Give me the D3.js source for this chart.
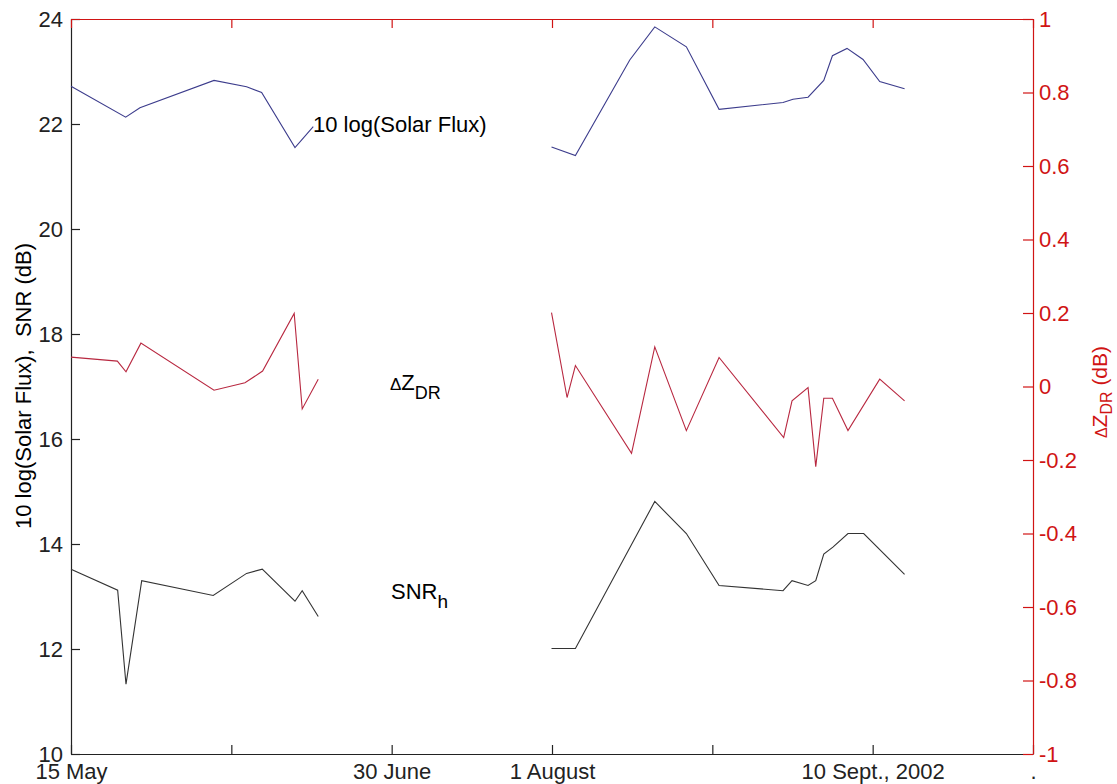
<!DOCTYPE html>
<html>
<head>
<meta charset="utf-8">
<script src="https://cdn.jsdelivr.net/npm/d3@7"></script>
<style>
  html, body { margin: 0; padding: 0; background: #fff; }
  svg { display: block; font-family: "Liberation Sans", Arial, sans-serif; }
</style>
</head>
<body>
<svg id="chart" width="1117" height="784"></svg>
<script>
// ---- data (x in arbitrary date units, ticks every 10; null = data gap) ----
const xTickValues = [0, 10, 20, 30, 40, 50, 60];
const xTickLabels = ["15 May", "", "30 June", "1 August", "", "10 Sept., 2002", "."];
const leftTicks = [10, 12, 14, 16, 18, 20, 22, 24];
const rightTicks = [-1, -0.8, -0.6, -0.4, -0.2, 0, 0.2, 0.4, 0.6, 0.8, 1];

const solarX = [0, 3.41, 4.30, 8.92, 10.95, 11.89, 13.97, 15.11, null,
  29.97, 31.46, 34.85, 36.41, 38.38, 40.42, 44.41, 45.03, 45.97, 46.95, 47.49, 48.40, 49.40, 50.44, 51.99];
const solarFlux = [22.72, 22.13, 22.31, 22.83, 22.71, 22.60, 21.55, 21.95, null,
  21.56, 21.40, 23.22, 23.85, 23.47, 22.28, 22.41, 22.47, 22.51, 22.83, 23.30, 23.44, 23.23, 22.81, 22.67];

const zdrX = [0, 2.89, 3.43, 4.36, 8.92, 10.85, 11.95, 13.92, 14.42, 15.42, null,
  29.97, 30.94, 31.46, 34.96, 36.41, 38.38, 40.42, 44.45, 44.97, 45.97, 46.45, 46.95, 47.49, 48.46, 50.44, 51.99];
const deltaZdr = [0.080, 0.069, 0.040, 0.118, -0.010, 0.010, 0.042, 0.199, -0.061, 0.020, null,
  0.201, -0.030, 0.057, -0.182, 0.108, -0.120, 0.079, -0.139, -0.039, -0.003, -0.218, -0.032, -0.032, -0.120, 0.020, -0.039];

const snrX = [0, 2.91, 3.43, 4.41, 8.87, 10.95, 11.93, 13.97, 14.42, 15.42, null,
  29.97, 31.46, 36.41, 38.38, 40.42, 44.41, 44.97, 45.97, 46.45, 46.95, 47.52, 48.46, 49.44, 51.99];
const snrH = [13.52, 13.12, 11.33, 13.30, 13.02, 13.44, 13.52, 12.91, 13.11, 12.62, null,
  12.01, 12.01, 14.81, 14.20, 13.21, 13.11, 13.30, 13.21, 13.30, 13.81, 13.94, 14.20, 14.20, 13.42];

// ---- layout ----
const L = 71, R = 1033, T = 19, B = 754;
const FONT = 22;
const RED_AX = "#d01414";
const svg = d3.select("#chart");

const x = d3.scaleLinear().domain([0, 60]).range([L, R]);
const yL = d3.scaleLinear().domain([10, 24]).range([B, T]);
const yR = d3.scaleLinear().domain([-1, 1]).range([B, T]);

function styleAxis(g, color) {
  g.selectAll("path.domain").attr("stroke", color).attr("stroke-width", 1.2);
  g.selectAll(".tick line").attr("stroke", color).attr("stroke-width", 1.2);
  g.selectAll(".tick text").attr("fill", color).attr("font-size", FONT)
    .attr("font-family", '"Liberation Sans", Arial, sans-serif');
}

// bottom axis
const gB = svg.append("g").attr("transform", `translate(0,${B})`)
  .call(d3.axisBottom(x).tickValues(xTickValues)
    .tickFormat((d, i) => xTickLabels[i]).tickSizeInner(-9).tickSizeOuter(0).tickPadding(9));
styleAxis(gB, "#222");

// left axis
const gL = svg.append("g").attr("transform", `translate(${L},0)`)
  .call(d3.axisLeft(yL).tickValues(leftTicks).tickFormat(d => String(d))
    .tickSizeInner(-9).tickSizeOuter(0).tickPadding(8));
styleAxis(gL, "#222");

// top axis (red, no labels)
const gT = svg.append("g").attr("transform", `translate(0,${T})`)
  .call(d3.axisTop(x).tickValues(xTickValues).tickFormat(() => "")
    .tickSizeInner(-9).tickSizeOuter(0));
styleAxis(gT, RED_AX);

// right axis (red)
const gR = svg.append("g").attr("transform", `translate(${R},0)`)
  .call(d3.axisRight(yR).tickValues(rightTicks)
    .tickFormat(d => String(+d.toFixed(1)))
    .tickSizeInner(-10).tickSizeOuter(0).tickPadding(6));
styleAxis(gR, RED_AX);

// ---- lines ----
function drawSeries(xs, ys, yScale, color) {
  const pts = xs.map((xv, i) => ({ x: xv, y: ys[i] }));
  const line = d3.line().defined(d => d.x != null && d.y != null)
    .x(d => x(d.x)).y(d => yScale(d.y));
  svg.append("path").datum(pts).attr("d", line)
    .attr("fill", "none").attr("stroke", color).attr("stroke-width", 1.1)
    .attr("stroke-linejoin", "miter");
}
drawSeries(solarX, solarFlux, yL, "#3c3c8c");
drawSeries(zdrX, deltaZdr, yR, "#b82840");
drawSeries(snrX, snrH, yL, "#333333");

// ---- annotations ----
svg.append("text").attr("x", 313).attr("y", 131.5).attr("font-size", FONT)
  .attr("fill", "#000").text("10 log(Solar Flux)");

const tz = svg.append("text").attr("x", 390).attr("y", 390).attr("fill", "#000");
tz.append("tspan").attr("font-size", 17).text("Δ");
tz.append("tspan").attr("font-size", 22).text("Z");
tz.append("tspan").attr("font-size", 18).attr("dy", 9).text("DR");

const ts = svg.append("text").attr("x", 391).attr("y", 598.5).attr("fill", "#000");
ts.append("tspan").attr("font-size", 22).text("SNR");
ts.append("tspan").attr("font-size", 19).attr("dy", 9).text("h");

// left axis title
svg.append("text")
  .attr("transform", `translate(31,386) rotate(-90)`)
  .attr("text-anchor", "middle").attr("font-size", FONT).attr("fill", "#000")
  .style("white-space", "pre")
  .text("10 log(Solar Flux),  SNR (dB)");

// right axis title
const tr = svg.append("text")
  .attr("transform", `translate(1107,392) rotate(-90)`)
  .attr("text-anchor", "middle").attr("fill", RED_AX);
tr.append("tspan").attr("font-size", 16).text("Δ");
tr.append("tspan").attr("font-size", 21).text("Z");
tr.append("tspan").attr("font-size", 16).attr("dy", 5).text("DR");
tr.append("tspan").attr("font-size", 21).attr("dy", -5).text(" (dB)");
</script>
</body>
</html>
